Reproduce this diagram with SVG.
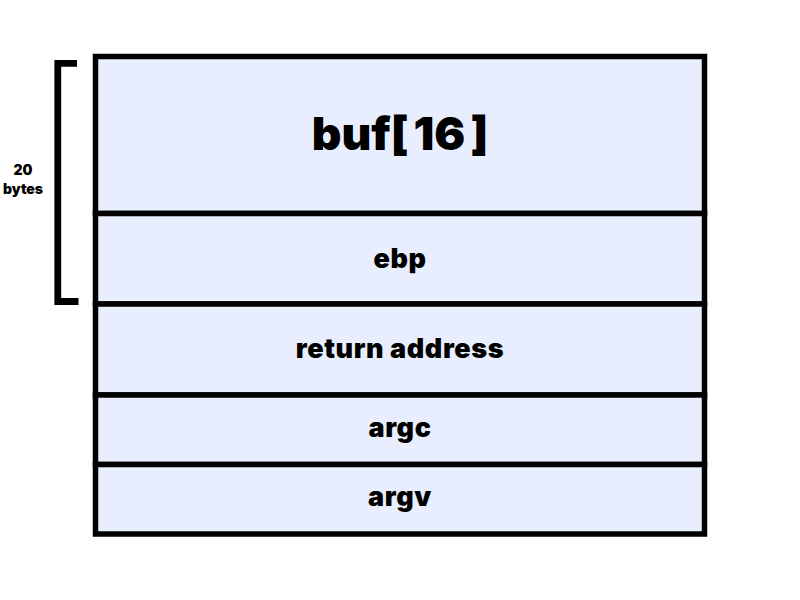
<svg xmlns="http://www.w3.org/2000/svg" width="800" height="600" viewBox="0 0 800 600">
<style>
.cell{fill:#e8eefd;stroke:#000;stroke-width:5.5}
.lbl{font-family:Inter,"Noto Sans",sans-serif;font-weight:900;fill:#000;text-anchor:middle;letter-spacing:0.6px}
.side{font-family:Inter,"Noto Sans",sans-serif;font-weight:900;font-size:14px;fill:#000;text-anchor:middle}
</style>
<rect width="800" height="600" fill="#fff"/>
<g id="buf"><rect class="cell" x="95.5" y="56.5" width="609" height="157"/><text class="lbl" x="400" y="150" font-size="46" style="letter-spacing:0">buf[<tspan dx="5">16</tspan><tspan dx="5">]</tspan></text></g>
<g id="ebp"><rect class="cell" x="95.5" y="213.5" width="609" height="90.5"/><text class="lbl" x="400" y="268" font-size="27">ebp</text></g>
<g id="ret"><rect class="cell" x="95.5" y="304" width="609" height="91"/><text class="lbl" x="400" y="358" font-size="27">return address</text></g>
<g id="argc"><rect class="cell" x="95.5" y="395" width="609" height="69.5"/><text class="lbl" x="400" y="437" font-size="27">argc</text></g>
<g id="argv"><rect class="cell" x="95.5" y="464.5" width="609" height="69.5"/><text class="lbl" x="400" y="506" font-size="27">argv</text></g>
<g id="bracket"><path d="M77,63.3 H57.8 V301.5 H78.5" fill="none" stroke="#000" stroke-width="6.8"/><text class="side" x="23" y="175">20</text><text class="side" x="23" y="194">bytes</text></g>
<g id="connectors"/>
</svg>
